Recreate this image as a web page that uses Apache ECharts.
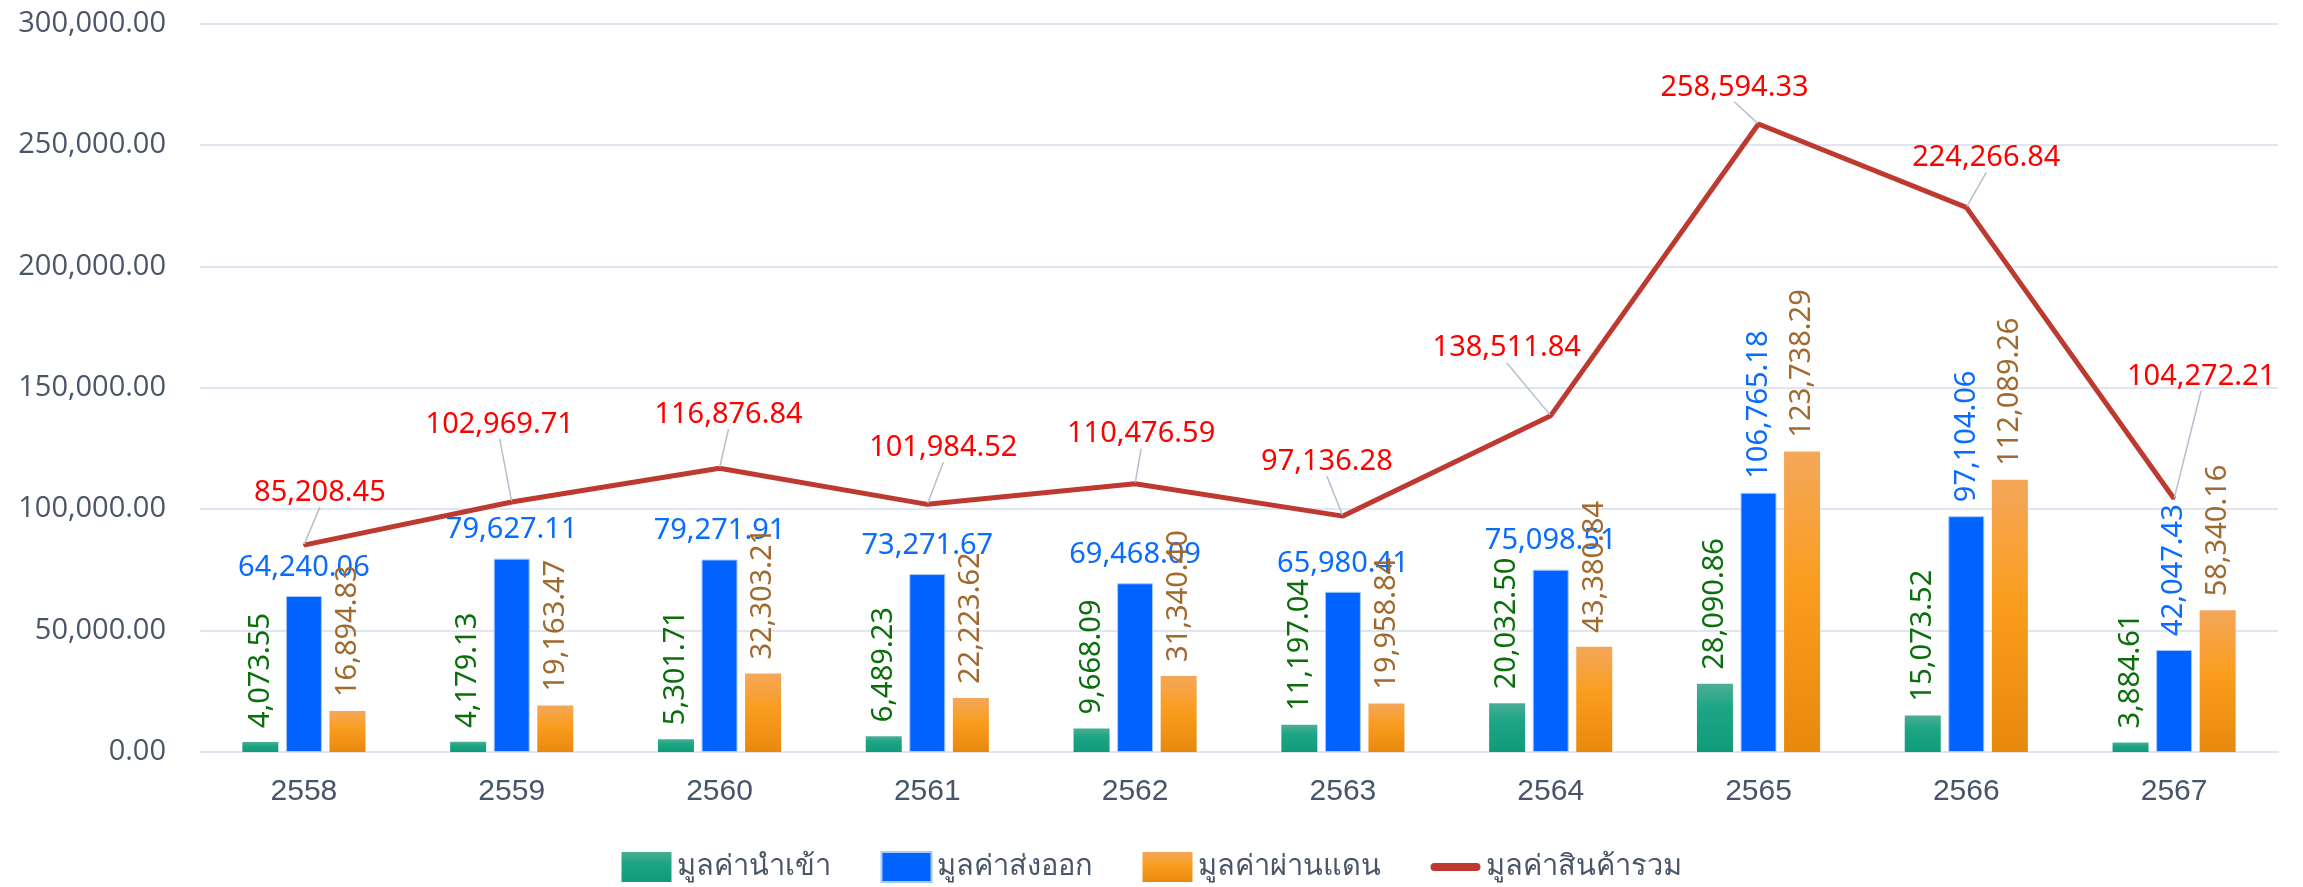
<!DOCTYPE html>
<html>
<head>
<meta charset="utf-8">
<script src="https://cdn.jsdelivr.net/npm/echarts@6/dist/echarts.min.js"></script>
<style>
html,body{margin:0;padding:0;background:#fff;}
#chart{width:2303px;height:887px;}
</style>
</head>
<body>
<div id="chart"></div>
<script>
const categories = ['2558','2559','2560','2561','2562','2563','2564','2565','2566','2567'];
const importValues = [4073.55, 4179.13, 5301.71, 6489.23, 9668.09, 11197.04, 20032.50, 28090.86, 15073.52, 3884.61];
const exportValues = [64240.06, 79627.11, 79271.91, 73271.67, 69468.09, 65980.41, 75098.51, 106765.18, 97104.06, 42047.43];
const transitValues = [16894.83, 19163.47, 32303.21, 22223.62, 31340.40, 19958.84, 43380.84, 123738.29, 112089.26, 58340.16];
const totalValues = [85208.45, 102969.71, 116876.84, 101984.52, 110476.59, 97136.28, 138511.84, 258594.33, 224266.84, 104272.21];
const seriesNames = ['มูลค่านำเข้า', 'มูลค่าส่งออก', 'มูลค่าผ่านแดน', 'มูลค่าสินค้ารวม'];
const yTicks = [0, 50000, 100000, 150000, 200000, 250000, 300000];
const verticalExportYears = ['2565', '2566', '2567'];

// label placement for the total line (pixel offsets, layout only)
const totalLabelShift = [[16,-20],[-12,-45],[9,-21],[16,-24],[6,-17],[-16,-22],[-44,-35],[-24,-4],[20,-17],[27,-90]];

const FONT = "'Noto Sans', 'Open Sans', sans-serif";
const fmt = v => Number(v).toLocaleString('en-US', {minimumFractionDigits: 2, maximumFractionDigits: 2});

const grad = (stops) => new echarts.graphic.LinearGradient(0, 0, 0, 1, stops.map(s => ({offset: s[0], color: s[1]})));

const rotatedLabel = (color) => ({
  show: true, position: 'top', rotate: 90, align: 'left', verticalAlign: 'middle',
  distance: 14, color: color, fontSize: 29, fontFamily: FONT,
  formatter: p => fmt(p.value)
});

const exportData = exportValues.map((v, i) => verticalExportYears.includes(categories[i])
  ? {value: v, label: {rotate: 90, align: 'left', verticalAlign: 'middle', distance: 14}}
  : v);

const chart = echarts.init(document.getElementById('chart'), null, {renderer: 'canvas'});
chart.setOption({
  backgroundColor: '#ffffff',
  animation: false,
  grid: {left: 200, right: 25, top: 23.5, bottom: 135, containLabel: false},
  legend: {
    top: 846, left: 'center', itemWidth: 50, itemHeight: 30, itemGap: 50,
    textStyle: {fontSize: 29, color: '#4a5568', fontFamily: FONT},
    data: [
      {name: seriesNames[0], icon: 'rect'},
      {name: seriesNames[1], icon: 'rect'},
      {name: seriesNames[2], icon: 'rect'},
      {name: seriesNames[3], icon: 'path://M0,0M50,30M4,11L46,11A4,4,0,0,1,46,19L4,19A4,4,0,0,1,4,11Z'}
    ]
  },
  xAxis: {
    type: 'category', data: categories,
    axisTick: {show: false},
    axisLine: {lineStyle: {color: '#e0e6f1', width: 2}},
    axisLabel: {fontSize: 30, color: '#475569', margin: 25, fontFamily: "'Liberation Sans', Arial, sans-serif"}
  },
  yAxis: {
    type: 'value', min: yTicks[0], max: yTicks[yTicks.length - 1], interval: yTicks[1] - yTicks[0],
    axisLabel: {fontSize: 29, color: '#4a5568', margin: 34, fontFamily: "'Open Sans', 'Noto Sans', sans-serif", formatter: v => fmt(v)},
    splitLine: {lineStyle: {color: '#e0e6f1', width: 2}},
    axisLine: {show: false}, axisTick: {show: false}
  },
  series: [
    {
      name: seriesNames[0], type: 'bar', data: importValues,
      barWidth: 36, barGap: '21%',
      itemStyle: {color: grad([[0,'#4cae95'],[0.35,'#1ea586'],[1,'#0f9b79']])},
      label: rotatedLabel('#0a6e0a')
    },
    {
      name: seriesNames[1], type: 'bar', data: exportData,
      barWidth: 36, barGap: '21%',
      itemStyle: {color: '#0062ff', borderColor: '#a9c9ff', borderWidth: 1},
      label: {show: true, position: 'top', distance: 14, color: '#0a6cff', fontSize: 29, fontFamily: FONT,
        formatter: p => fmt(p.value)}
    },
    {
      name: seriesNames[2], type: 'bar', data: transitValues,
      barWidth: 36, barGap: '21%',
      itemStyle: {color: grad([[0,'#f4a75a'],[0.45,'#fa9d1e'],[1,'#e7890d']])},
      label: rotatedLabel('#a0692e')
    },
    {
      name: seriesNames[3], type: 'line', data: totalValues, z: 5,
      symbol: 'circle', symbolSize: 2, showSymbol: true,
      itemStyle: {color: '#be3a31'},
      lineStyle: {color: '#be3a31', width: 5},
      label: {show: true, position: 'top', distance: 5, color: '#ff0000', fontSize: 29, fontFamily: FONT,
        padding: [2, 2, 12, 2], formatter: p => fmt(p.value)},
      labelLine: {show: true, lineStyle: {color: '#b4c0cc', width: 1.5}},
      labelLayout: p => ({dx: totalLabelShift[p.dataIndex][0], dy: totalLabelShift[p.dataIndex][1]})
    }
  ]
});
</script>
</body>
</html>
